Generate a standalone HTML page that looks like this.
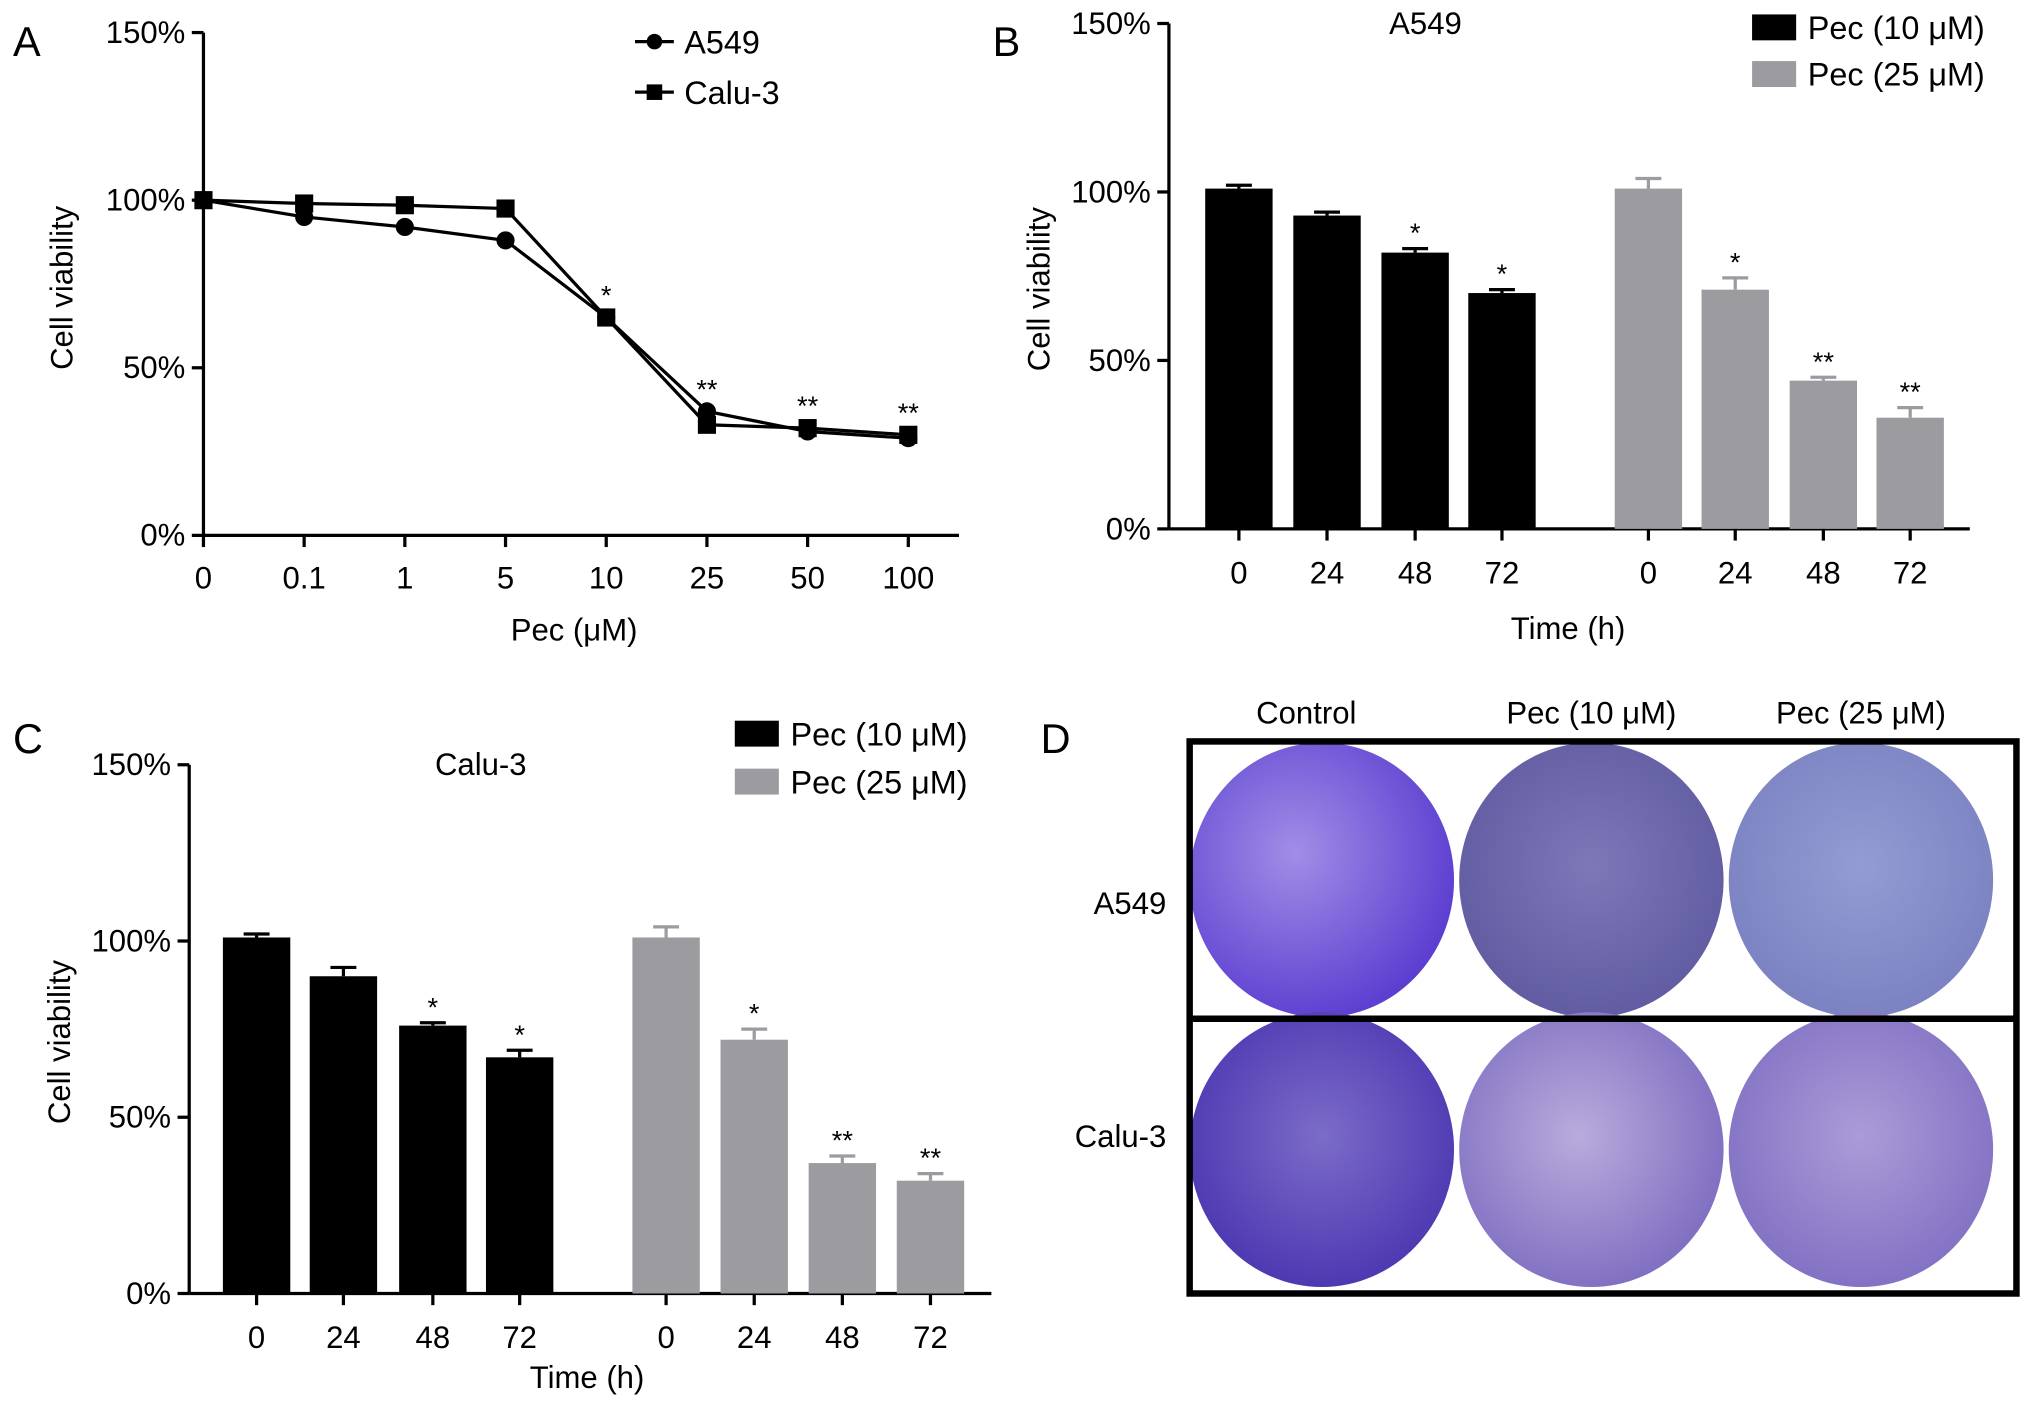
<!DOCTYPE html>
<html><head><meta charset="utf-8"><style>
html,body{margin:0;padding:0;background:#fff}
svg{display:block}
text{font-family:"Liberation Sans",sans-serif;fill:#000}
</style></head><body>
<svg id="fig" width="2032" height="1409" viewBox="0 0 1568 1087">
<defs>
<radialGradient id="g1" cx="40%" cy="40%" r="65%"><stop offset="0" stop-color="#a08ee6"/><stop offset="1" stop-color="#5a3cd0"/></radialGradient>
<radialGradient id="g2" cx="50%" cy="45%" r="60%"><stop offset="0" stop-color="#7d78b8"/><stop offset="1" stop-color="#5f5aa0"/></radialGradient>
<radialGradient id="g3" cx="50%" cy="45%" r="60%"><stop offset="0" stop-color="#939cd4"/><stop offset="1" stop-color="#7a80c0"/></radialGradient>
<radialGradient id="g4" cx="50%" cy="45%" r="60%"><stop offset="0" stop-color="#7c6cc8"/><stop offset="1" stop-color="#4a34b0"/></radialGradient>
<radialGradient id="g5" cx="45%" cy="45%" r="60%"><stop offset="0" stop-color="#b8acdc"/><stop offset="1" stop-color="#7e6cc0"/></radialGradient>
<radialGradient id="g6" cx="50%" cy="45%" r="60%"><stop offset="0" stop-color="#aa9cd8"/><stop offset="1" stop-color="#806ec2"/></radialGradient>
</defs>
<g id="root"></g>
</svg>
<script>
// Panel A data
const aCats = ["0","0.1","1","5","10","25","50","100"];
const aA549 = [100,95,92,88,65,37,31,29];
const aCalu = [100,99,98.5,97.5,65,33,32,30];
const aStars = ["","","","","*","**","**","**"];
// Panel B data
const bCats = ["0","24","48","72","0","24","48","72"];
const bVals = [101,93,82,70,101,71,44,33];
const bErr = [1,1,1.2,1,3,3.5,1,3];
const bStars = ["","","*","*","","*","**","**"];
// Panel C data
const cCats = ["0","24","48","72","0","24","48","72"];
const cVals = [101,90,76,67,101,72,37,32];
const cErr = [1,2.5,0.8,2,3,3,2,2];
const cStars = ["","","*","*","","*","**","**"];
const yTicks = [0,50,100,150];

const NS="http://www.w3.org/2000/svg";
const root=document.getElementById('root');
function el(tag,attrs,name,parent,txt){
  const e=document.createElementNS(NS,tag);
  for(const k in attrs)e.setAttribute(k,attrs[k]);
  
  
  if(txt!==undefined)e.textContent=txt;
  (parent||root).appendChild(e);return e;
}
function axesY(x0,yTop,yBot,xEnd,id){
  const y=v=>yBot-(v/150)*(yBot-yTop);
  el('line',{x1:x0,y1:yTop,x2:x0,y2:yBot,stroke:'#000','stroke-width':2.5},id+'-y-axis');
  el('line',{x1:x0,y1:yBot,x2:xEnd,y2:yBot,stroke:'#000','stroke-width':2.5},id+'-x-axis');
  yTicks.forEach(t=>{
    el('line',{x1:x0-9,y1:y(t),x2:x0,y2:y(t),stroke:'#000','stroke-width':2.5},id+'-y-tick');
    el('text',{x:x0-14,y:y(t)+8,'text-anchor':'end','font-size':24},id+'-y-tick-label',undefined,t+'%');
  });
  return y;
}
function legendLine(x,yc,sq,label){
  el('line',{x1:x,y1:yc,x2:x+30,y2:yc,stroke:'#000','stroke-width':2.5},'legend-line');
  if(sq)el('rect',{x:x+9,y:yc-6,width:12,height:12,fill:'#000'},'legend-marker');
  else el('circle',{cx:x+15,cy:yc,r:6,fill:'#000'},'legend-marker');
  el('text',{x:x+38,y:yc+9,'font-size':25},'legend-label',undefined,label);
}
// Panel A
(function(){
  const y=axesY(157,25,413,740,'panel-a');
  const x=i=>157+i*77.7;
  aCats.forEach((c,i)=>{
    el('line',{x1:x(i),y1:413,x2:x(i),y2:422,stroke:'#000','stroke-width':2.5},'panel-a-x-tick');
    el('text',{x:x(i),y:454,'text-anchor':'middle','font-size':24},'panel-a-x-tick-label',undefined,c);
  });
  el('polyline',{points:aA549.map((v,i)=>x(i)+','+y(v)).join(' '),fill:'none',stroke:'#000','stroke-width':2.5},'a549-line');
  el('polyline',{points:aCalu.map((v,i)=>x(i)+','+y(v)).join(' '),fill:'none',stroke:'#000','stroke-width':2.5},'calu3-line');
  aA549.forEach((v,i)=>el('circle',{cx:x(i),cy:y(v),r:7,fill:'#000'},'a549-point'));
  aCalu.forEach((v,i)=>el('rect',{x:x(i)-7,y:y(v)-7,width:14,height:14,fill:'#000'},'calu3-point'));
  aStars.forEach((s,i)=>{if(s)el('text',{x:x(i),y:y(Math.max(aA549[i],aCalu[i]))-10,'text-anchor':'middle','font-size':21},'significance-star',undefined,s);});
  legendLine(490,32,false,'A549');legendLine(490,71,true,'Calu-3');
  el('text',{x:56,y:222,'text-anchor':'middle','font-size':24,transform:'rotate(-90 56 222)'},'panel-a-y-axis-title',undefined,'Cell viability');
  el('text',{x:443,y:494,'text-anchor':'middle','font-size':24},'panel-a-x-axis-title',undefined,'Pec (μM)');
})();
function barPanel(id,x0,yTop,yBot,xEnd,centers,vals,errs,stars,cats,title,tx,ty,lx,ly1,ly2,xt,xty){
  const y=axesY(x0,yTop,yBot,xEnd,id);
  vals.forEach((v,i)=>{
    const col=i<4?'#000':'#9c9ca0';
    const cx=centers[i];
    el('line',{x1:cx,y1:y(v+errs[i]),x2:cx,y2:y(v),stroke:col,'stroke-width':2.5},id+'-error-bar');
    el('line',{x1:cx-10,y1:y(v+errs[i]),x2:cx+10,y2:y(v+errs[i]),stroke:col,'stroke-width':2.5},id+'-error-cap');
    el('rect',{x:cx-26,y:y(v),width:52,height:yBot-y(v),fill:col},id+'-bar');
    if(stars[i])el('text',{x:cx,y:y(v+errs[i])-5,'text-anchor':'middle','font-size':21},'significance-star',undefined,stars[i]);
    el('line',{x1:cx,y1:yBot,x2:cx,y2:yBot+9,stroke:'#000','stroke-width':2.5},id+'-x-tick');
    el('text',{x:cx,y:yBot+42,'text-anchor':'middle','font-size':24},id+'-x-tick-label',undefined,cats[i]);
  });
  el('text',{x:tx,y:ty,'text-anchor':'middle','font-size':24},id+'-title',undefined,title);
  el('rect',{x:lx,y:ly1-10,width:34,height:20,fill:'#000'},'legend-swatch');
  el('text',{x:lx+43,y:ly1+9,'font-size':25},'legend-label',undefined,'Pec (10 μM)');
  el('rect',{x:lx,y:ly2-10,width:34,height:20,fill:'#9c9ca0'},'legend-swatch');
  el('text',{x:lx+43,y:ly2+9,'font-size':25},'legend-label',undefined,'Pec (25 μM)');
  const my=(yTop+yBot)/2+10;
  el('text',{x:x0-92,y:my,'text-anchor':'middle','font-size':24,transform:'rotate(-90 '+(x0-92)+' '+my+')'},id+'-y-axis-title',undefined,'Cell viability');
  el('text',{x:xt,y:xty,'text-anchor':'middle','font-size':24},id+'-x-axis-title',undefined,'Time (h)');
}
barPanel('panel-b',902,18,408,1520,[956,1024,1092,1159,1272,1339,1407,1474],bVals,bErr,bStars,bCats,'A549',1100,26,1352,21,57,1210,493);
barPanel('panel-c',146,590,998,765,[198,265,334,401,514,582,650,718],cVals,cErr,cStars,cCats,'Calu-3',371,598,567,566,603,453,1071);
// Panel D
(function(){
  const cols=[1020,1228,1436],rows=[679,887],fills=[['g1','g2','g3'],['g4','g5','g6']];
  const names=['control','pec-10','pec-25'],rn=['a549','calu3'];
  rows.forEach((ry,r)=>cols.forEach((cx,c)=>el('ellipse',{cx:cx,cy:ry,rx:102,ry:106,fill:'url(#'+fills[r][c]+')'},'plate-'+rn[r]+'-'+names[c])));
  el('rect',{x:918,y:572,width:638,height:426,fill:'none',stroke:'#000','stroke-width':5},'plate-frame');
  el('line',{x1:918,y1:786,x2:1556,y2:786,stroke:'#000','stroke-width':5},'plate-divider');
  [['Control',1008],['Pec (10 μM)',1228],['Pec (25 μM)',1436]].forEach(([t,x])=>el('text',{x:x,y:558,'text-anchor':'middle','font-size':24},'column-label',undefined,t));
  el('text',{x:900,y:705,'text-anchor':'end','font-size':24},'row-label',undefined,'A549');
  el('text',{x:900,y:885,'text-anchor':'end','font-size':24},'row-label',undefined,'Calu-3');
})();
[['A',10,43],['B',766,43],['C',10,581],['D',803,581]].forEach(([t,x,y])=>el('text',{x:x,y:y,'font-size':32},'panel-label-'+t.toLowerCase(),undefined,t));
</script>
</body></html>
